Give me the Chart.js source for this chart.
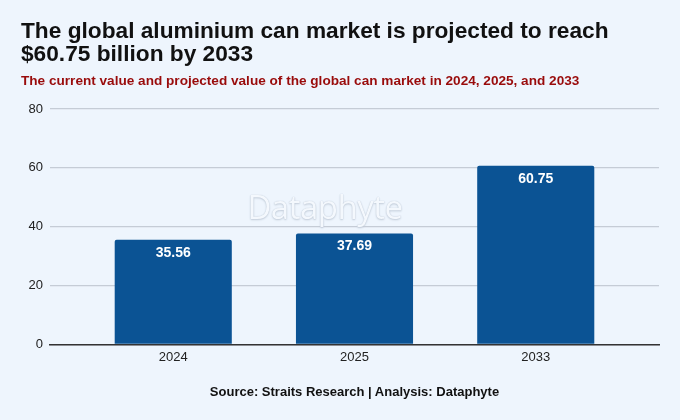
<!DOCTYPE html>
<html lang="en">
<head>
    <meta charset="UTF-8">
    <title>Aluminium can market</title>
    <script src="https://cdn.jsdelivr.net/npm/chart.js"></script>
    <style>
        html, body { margin: 0; padding: 0; background: #eef5fd; }
        #wrap { position: relative; width: 680px; height: 420px; overflow: hidden; font-family: "Liberation Sans", Arial, sans-serif; }
        #chart { position: absolute; left: 0; top: 0; }
        h1 { position: absolute; left: 21px; top: 19px; margin: 0; font-size: 22.7px; line-height: 23px; font-weight: bold; color: #111; }
        h2 { position: absolute; left: 21px; top: 73px; margin: 0; font-size: 13.6px; font-weight: bold; color: #990b0b; }
        .mark { position: absolute; left: 233px; top: 184px; width: 184px; text-align: center; font-family: "Open Sans", sans-serif; font-size: 33px; color: #f4f8fd; text-shadow: 0 0 1px #b3bfce, 0 1px 2px #c2ccd9; letter-spacing: -0.5px; }
        .source { position: absolute; left: 50px; width: 609px; top: 384px; text-align: center; font-size: 13px; font-weight: bold; color: #111; }
    </style>
</head>
<body>
<div id="wrap">
    <canvas id="chart" width="680" height="420"></canvas>
    <h1>The global aluminium can market is projected to reach<br>$60.75 billion by 2033</h1>
    <h2>The current value and projected value of the global can market in 2024, 2025, and 2033</h2>
    <div class="mark">Dataphyte</div>
    <div class="source">Source: Straits Research | Analysis: Dataphyte</div>
</div>

<script>
    // 값 (billion USD)
    const years = ["2024", "2025", "2033"];
    const marketValue = [35.56, 37.69, 60.75];
    const yTicks = [0, 20, 40, 60, 80];

    // 막대 위에 값 표시
    const barLabels = {
        id: "barLabels",
        afterDatasetsDraw(chart) {
            const ctx = chart.ctx;
            ctx.save();
            ctx.fillStyle = "#ffffff";
            ctx.font = "bold 14px 'Liberation Sans', Arial, sans-serif";
            ctx.textAlign = "center";
            ctx.textBaseline = "middle";
            chart.getDatasetMeta(0).data.forEach((bar, i) => {
                ctx.fillText(marketValue[i].toFixed(2), bar.x, bar.y + 13);
            });
            ctx.restore();
        }
    };

    const ctx = document.getElementById("chart").getContext("2d");
    new Chart(ctx, {
        type: "bar",
        data: {
            datasets: [{
                label: "Market value",
                data: marketValue.map((v, i) => ({ x: i, y: v })),
                backgroundColor: "#0b5394",
                borderRadius: 2,
                borderSkipped: "bottom",
                barPercentage: 0.646,
                categoryPercentage: 1
            }]
        },
        options: {
            responsive: false,
            animation: false,
            layout: { padding: { top: 109, right: 21, bottom: 50, left: 0 } },
            plugins: {
                legend: { display: false },
                tooltip: { enabled: false }
            },
            scales: {
                x: {
                    type: "linear",
                    offset: false,
                    min: -0.68,
                    max: 2.68,
                    grid: { display: false, drawTicks: false },
                    border: { color: "#333333", width: 1.5 },
                    afterBuildTicks: scale => {
                        scale.ticks = years.map((y, i) => ({ value: i }));
                    },
                    ticks: {
                        padding: 5,
                        color: "#222",
                        font: { family: "'Liberation Sans', Arial, sans-serif", size: 13 },
                        callback: v => years[v]
                    }
                },
                y: {
                    min: 0,
                    max: 80,
                    afterBuildTicks: scale => {
                        scale.ticks = yTicks.map(v => ({ value: v }));
                    },
                    afterFit: scale => { scale.width = 50; },
                    grid: { color: "#c5ccd6", lineWidth: 1.2, drawTicks: false },
                    border: { display: false },
                    ticks: {
                        padding: 7,
                        color: "#222",
                        font: { family: "'Liberation Sans', Arial, sans-serif", size: 13 }
                    }
                }
            }
        },
        plugins: [barLabels]
    });
</script>
</body>
</html>
